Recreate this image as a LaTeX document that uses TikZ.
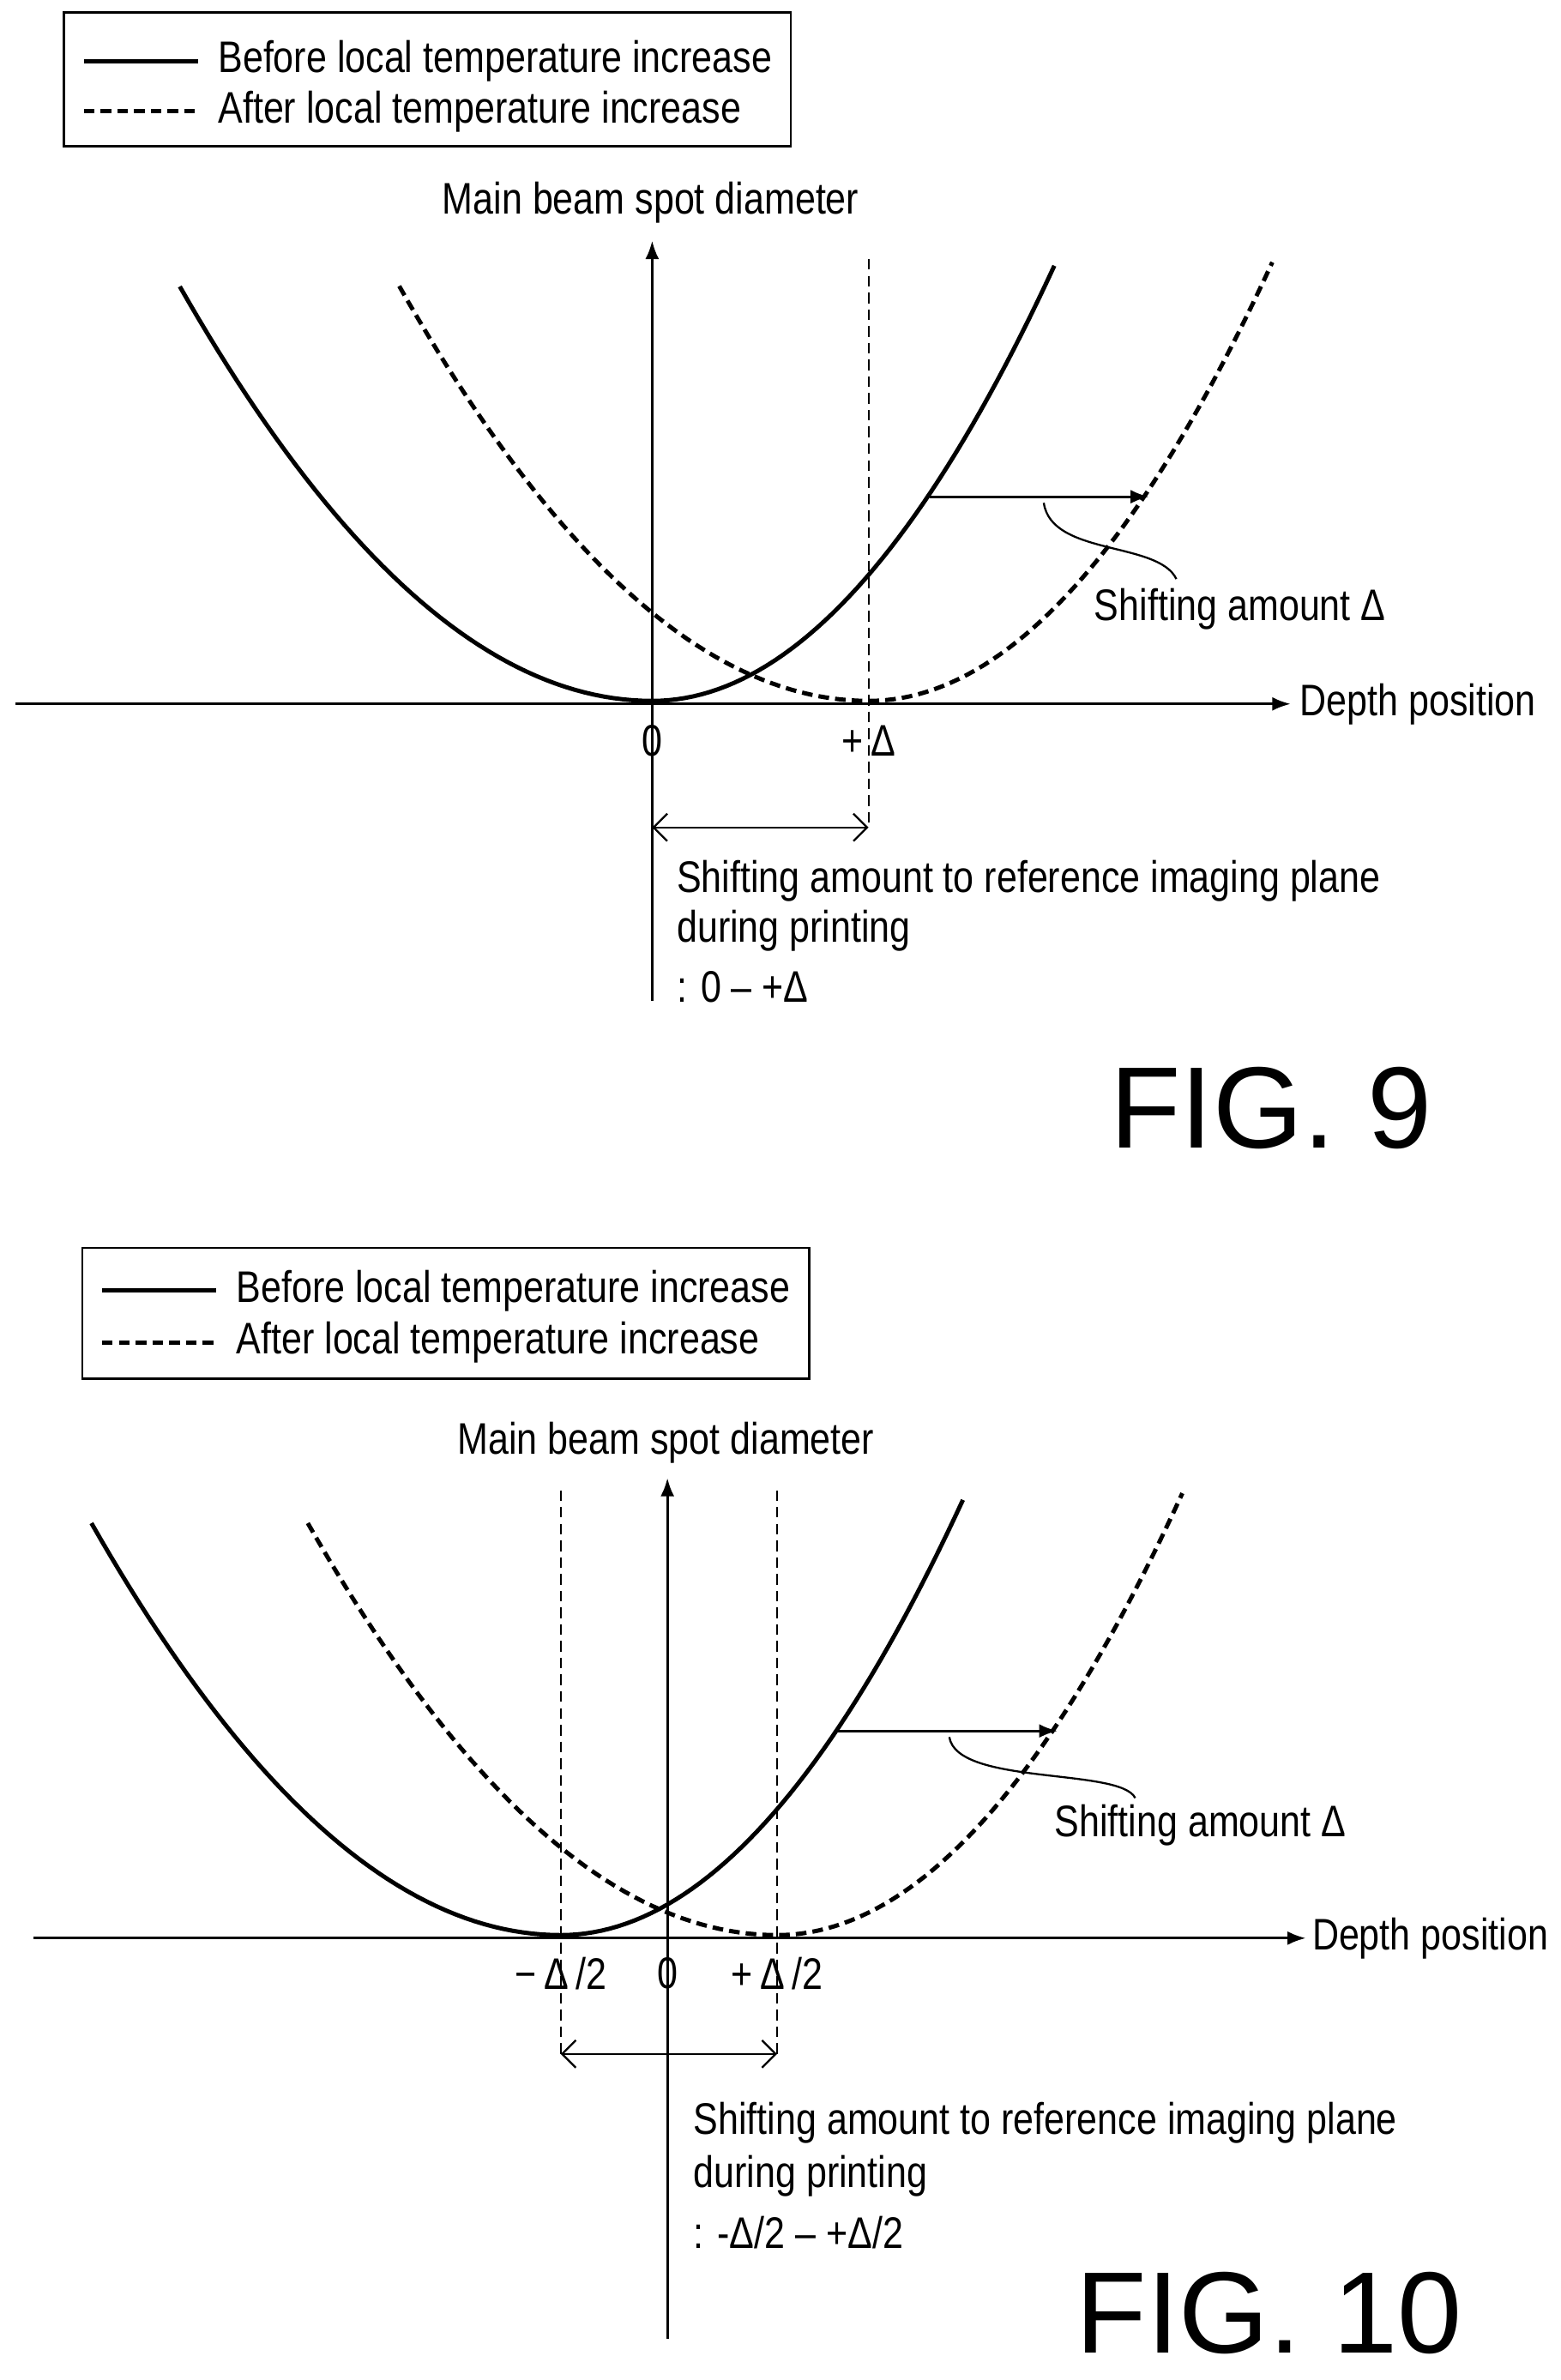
\documentclass[tikz,border=0pt]{standalone}
\usepackage{fontspec}
\setmainfont{Liberation Sans}[FakeStretch=0.835]
\newfontfamily\figfont{Liberation Sans}
\usetikzlibrary{arrows.meta}
\begin{document}
\begin{tikzpicture}[x=1pt,y=-1pt,
  lbl/.style={font=\fontsize{29}{33}\selectfont,inner sep=0pt},
  figl/.style={font=\figfont\fontsize{76}{86}\selectfont,inner sep=0pt},
  curve/.style={line width=2.8pt},
  dcurve/.style={line width=2.8pt,dash pattern=on 7pt off 4pt},
  ax/.style={line width=1.6pt,-{Latex[length=12pt,width=9pt]}},
  thin/.style={line width=1.3pt},
  vdash/.style={line width=1.3pt,dash pattern=on 7pt off 4pt}]
\useasboundingbox (0,0) rectangle (1024,1562);
% ---------------- FIG 9
\node[draw,line width=1.6pt,minimum width=477pt,minimum height=88pt,inner sep=0pt] (leg9) at (280.5,52) {};
\draw[curve] (55,40) -- (130,40);
\draw[dcurve] (55,73) -- (130,73);
\node[lbl,anchor=west] (l9a) at (143,40) {Before local temperature increase};
\node[lbl,anchor=west] (l9b) at (143,73) {After local temperature increase};
\coordinate (yt9) at (428,158);
\coordinate (yb9) at (428,657);
\coordinate (xl9) at (10,462);
\coordinate (xr9) at (847,462);
\draw[ax] (yb9) -- (yt9);
\draw[ax] (xl9) -- (xr9);
\node[lbl] (ylab9) at (427,133) {Main beam spot diameter};
\node[lbl,anchor=west] (xlab9) at (853,462) {Depth position};
\draw[curve] plot[domain=-3.10:0,samples=50] ({428+100*\x},{460-28.3*(\x)^2}) -- plot[domain=0:2.64,samples=50] ({428+100*\x},{460-41*(\x)^2});
\draw[dcurve] plot[domain=-3.08:0,samples=50] ({570+100*\x},{460-28.7*(\x)^2}) -- plot[domain=0:2.65,samples=50] ({570+100*\x},{460-41*(\x)^2});
\draw[vdash] (570,170) -- (570,543);
\node[lbl] (z9) at (428,486) {0};
\node[lbl] (d9) at (570,486) {+\,Δ};
\coordinate (a9) at (428,543); \coordinate (b9) at (570,543);
\draw[thin,{Straight Barb[length=9pt]}-{Straight Barb[length=9pt]}] (a9) -- (b9);
\node[lbl,anchor=west] (t9a) at (444,578) {Shifting amount to reference imaging plane};
\node[lbl,anchor=west] (t9b) at (444,611) {during printing};
\node[lbl,anchor=west] (t9c) at (444,648) {: 0 – +Δ};
\coordinate (s9a) at (610,326); \coordinate (s9b) at (754,326);
\draw[ax] (s9a) -- (s9b);
\node[lbl,anchor=west] (sh9) at (718,400) {Shifting amount Δ};
\draw[thin] (685,330) .. controls (690,365) and (760,355) .. (772,380);
\node[figl] (f9) at (834,727) {FIG. 9};
% ---------------- FIG 10
\node[draw,line width=1.6pt,minimum width=477pt,minimum height=86pt,inner sep=0pt] (leg10) at (292.5,862) {};
\draw[curve] (67,847) -- (142,847);
\draw[dcurve] (67,881) -- (142,881);
\node[lbl,anchor=west] (l10a) at (155,847) {Before local temperature increase};
\node[lbl,anchor=west] (l10b) at (155,881) {After local temperature increase};
\coordinate (yt10) at (438,970);
\coordinate (yb10) at (438,1535);
\coordinate (xl10) at (22,1272);
\coordinate (xr10) at (857,1272);
\draw[ax] (yb10) -- (yt10);
\draw[ax] (xl10) -- (xr10);
\node[lbl] (ylab10) at (437,947) {Main beam spot diameter};
\node[lbl,anchor=west] (xlab10) at (861,1272) {Depth position};
\draw[curve] plot[domain=-3.08:0,samples=50] ({368+100*\x},{1270-28.5*(\x)^2}) -- plot[domain=0:2.64,samples=50] ({368+100*\x},{1270-41*(\x)^2});
\draw[dcurve] plot[domain=-3.08:0,samples=50] ({510+100*\x},{1270-28.5*(\x)^2}) -- plot[domain=0:2.66,samples=50] ({510+100*\x},{1270-41*(\x)^2});
\draw[vdash] (368,978) -- (368,1350);
\draw[vdash] (510,978) -- (510,1350);
\node[lbl] (m10) at (368,1295) {−\,Δ\,/2};
\node[lbl] (z10) at (438,1295) {0};
\node[lbl] (p10) at (510,1295) {+\,Δ\,/2};
\coordinate (a10) at (368,1348); \coordinate (b10) at (510,1348);
\draw[thin,{Straight Barb[length=9pt]}-{Straight Barb[length=9pt]}] (a10) -- (b10);
\node[lbl,anchor=west] (t10a) at (455,1393) {Shifting amount to reference imaging plane};
\node[lbl,anchor=west] (t10b) at (455,1428) {during printing};
\node[lbl,anchor=west] (t10c) at (455,1465) {: -Δ/2 – +Δ/2};
\coordinate (s10a) at (550,1136); \coordinate (s10b) at (694,1136);
\draw[ax] (s10a) -- (s10b);
\node[lbl,anchor=west] (sh10) at (692,1198) {Shifting amount Δ};
\draw[thin] (623,1140) .. controls (628,1172) and (735,1160) .. (745,1180);
\node[figl] (f10) at (833,1518) {FIG. 10};
\end{tikzpicture}
\end{document}
